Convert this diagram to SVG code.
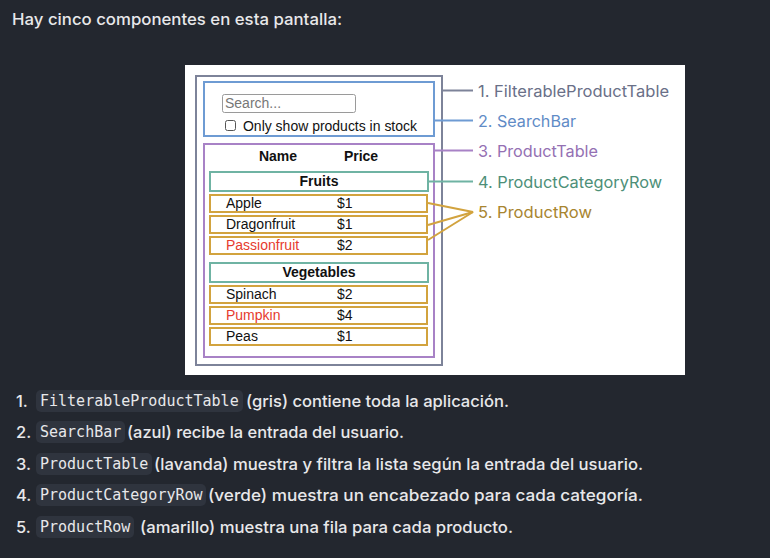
<svg xmlns="http://www.w3.org/2000/svg" width="770" height="558" viewBox="0 0 770 558">
<style>
.bg{fill:#23272f}
.body{font-family:Inter,"Noto Sans",sans-serif;font-size:16.5px;font-weight:500;fill:#e8e8ea}
.code{font-family:"DejaVu Sans Mono",monospace;font-size:15px;fill:#e8e8ea}
.cbox{fill:#2f343e}
.ui{font-family:"Liberation Sans",Arial,sans-serif;font-size:14px;fill:#111}
.b{font-weight:bold}
.red{fill:#e63b2e}
.lbl{font-family:Inter,"Noto Sans",sans-serif;font-size:16px;dominant-baseline:central}
.row{fill:none;stroke:#d2a33e;stroke-width:2}
.cat{fill:none;stroke:#6fb3a3;stroke-width:2}
</style>
<rect class="bg" x="0" y="0" width="770" height="558"/>
<text class="body" x="12" y="25" textLength="330" lengthAdjust="spacingAndGlyphs">Hay cinco componentes en esta pantalla:</text>

<rect x="185" y="65" width="500" height="310" fill="#ffffff"/>

<g id="filterable-product-table">
<rect x="196" y="76" width="246" height="289" fill="none" stroke="#7d8399" stroke-width="2"/>
</g>
<g id="search-bar">
<rect x="204" y="82" width="230" height="54" fill="none" stroke="#6e9bd3" stroke-width="2"/>
<rect x="222.5" y="94.5" width="133" height="18" rx="2" fill="#fff" stroke="#9a9a9a"/>
<text class="ui" x="225" y="108" font-size="12" style="fill:#777">Search...</text>
<rect x="225.5" y="120.5" width="10" height="10" rx="2" fill="#fff" stroke="#555"/>
<text class="ui" x="243" y="131" textLength="174" lengthAdjust="spacingAndGlyphs">Only show products in stock</text>
</g>
<g id="product-table">
<rect x="204" y="144" width="230" height="213" fill="none" stroke="#a882c6" stroke-width="2"/>
<text class="ui b" x="278" y="161" text-anchor="middle">Name</text>
<text class="ui b" x="361" y="161" text-anchor="middle">Price</text>
</g>
<g id="category-fruits">
<rect class="cat" x="210" y="172" width="218" height="19"/>
<text class="ui b" x="319" y="186" text-anchor="middle">Fruits</text>
</g>
<g id="row-apple">
<rect class="row" x="210" y="195" width="217" height="17"/>
<text class="ui" x="226" y="208">Apple</text><text class="ui" x="337" y="208">$1</text>
</g>
<g id="row-dragonfruit">
<rect class="row" x="210" y="216" width="217" height="17"/>
<text class="ui" x="226" y="229">Dragonfruit</text><text class="ui" x="337" y="229">$1</text>
</g>
<g id="row-passionfruit">
<rect class="row" x="210" y="237" width="217" height="17"/>
<text class="ui red" x="226" y="250">Passionfruit</text><text class="ui" x="337" y="250">$2</text>
</g>
<g id="category-vegetables">
<rect class="cat" x="210" y="263" width="218" height="19"/>
<text class="ui b" x="319" y="277" text-anchor="middle">Vegetables</text>
</g>
<g id="row-spinach">
<rect class="row" x="210" y="286" width="217" height="17"/>
<text class="ui" x="226" y="299">Spinach</text><text class="ui" x="337" y="299">$2</text>
</g>
<g id="row-pumpkin">
<rect class="row" x="210" y="307" width="217" height="17"/>
<text class="ui red" x="226" y="320">Pumpkin</text><text class="ui" x="337" y="320">$4</text>
</g>
<g id="row-peas">
<rect class="row" x="210" y="328" width="217" height="17"/>
<text class="ui" x="226" y="341">Peas</text><text class="ui" x="337" y="341">$1</text>
</g>

<g id="connectors" fill="none" stroke-width="2">
<line x1="442" y1="90.5" x2="473" y2="90.5" stroke="#7d8399"/>
<line x1="434" y1="120.5" x2="473" y2="120.5" stroke="#6e9bd3"/>
<line x1="434" y1="150.5" x2="473" y2="150.5" stroke="#a882c6"/>
<line x1="428" y1="181.5" x2="473" y2="181.5" stroke="#6fb3a3"/>
<polyline points="428,203 473,212 428,225" stroke="#d2a33e"/>
<line x1="428" y1="240" x2="473" y2="212" stroke="#d2a33e"/>
</g>

<g id="labels">
<text class="lbl" x="478" y="91" fill="#6a7088" textLength="191" lengthAdjust="spacingAndGlyphs">1. FilterableProductTable</text>
<text class="lbl" x="478" y="121" fill="#5f8bc6" textLength="98" lengthAdjust="spacingAndGlyphs">2. SearchBar</text>
<text class="lbl" x="478" y="151" fill="#9470b3" textLength="120" lengthAdjust="spacingAndGlyphs">3. ProductTable</text>
<text class="lbl" x="478" y="182" fill="#4d8f78" textLength="184" lengthAdjust="spacingAndGlyphs">4. ProductCategoryRow</text>
<text class="lbl" x="478" y="212" fill="#a88530" textLength="114" lengthAdjust="spacingAndGlyphs">5. ProductRow</text>
</g>

<g id="list">
<text class="body" x="16" y="407">1.</text>
<rect class="cbox" x="36" y="390" width="207" height="22" rx="5"/>
<text class="code" x="40" y="406">FilterableProductTable</text>
<text class="body" x="246" y="407" textLength="263" lengthAdjust="spacingAndGlyphs">(gris) contiene toda la aplicación.</text>

<text class="body" x="16" y="438">2.</text>
<rect class="cbox" x="36" y="421" width="89" height="22" rx="5"/>
<text class="code" x="40" y="437">SearchBar</text>
<text class="body" x="127" y="438" textLength="277" lengthAdjust="spacingAndGlyphs">(azul) recibe la entrada del usuario.</text>

<text class="body" x="16" y="470">3.</text>
<rect class="cbox" x="36" y="453" width="116" height="22" rx="5"/>
<text class="code" x="40" y="469">ProductTable</text>
<text class="body" x="154" y="470" textLength="489" lengthAdjust="spacingAndGlyphs">(lavanda) muestra y filtra la lista según la entrada del usuario.</text>

<text class="body" x="16" y="501">4.</text>
<rect class="cbox" x="36" y="484" width="170" height="22" rx="5"/>
<text class="code" x="40" y="500">ProductCategoryRow</text>
<text class="body" x="208" y="501" textLength="435" lengthAdjust="spacingAndGlyphs">(verde) muestra un encabezado para cada categoría.</text>

<text class="body" x="16" y="533">5.</text>
<rect class="cbox" x="36" y="516" width="98" height="22" rx="5"/>
<text class="code" x="40" y="532">ProductRow</text>
<text class="body" x="140" y="533" textLength="373" lengthAdjust="spacingAndGlyphs">(amarillo) muestra una fila para cada producto.</text>
</g>
</svg>
